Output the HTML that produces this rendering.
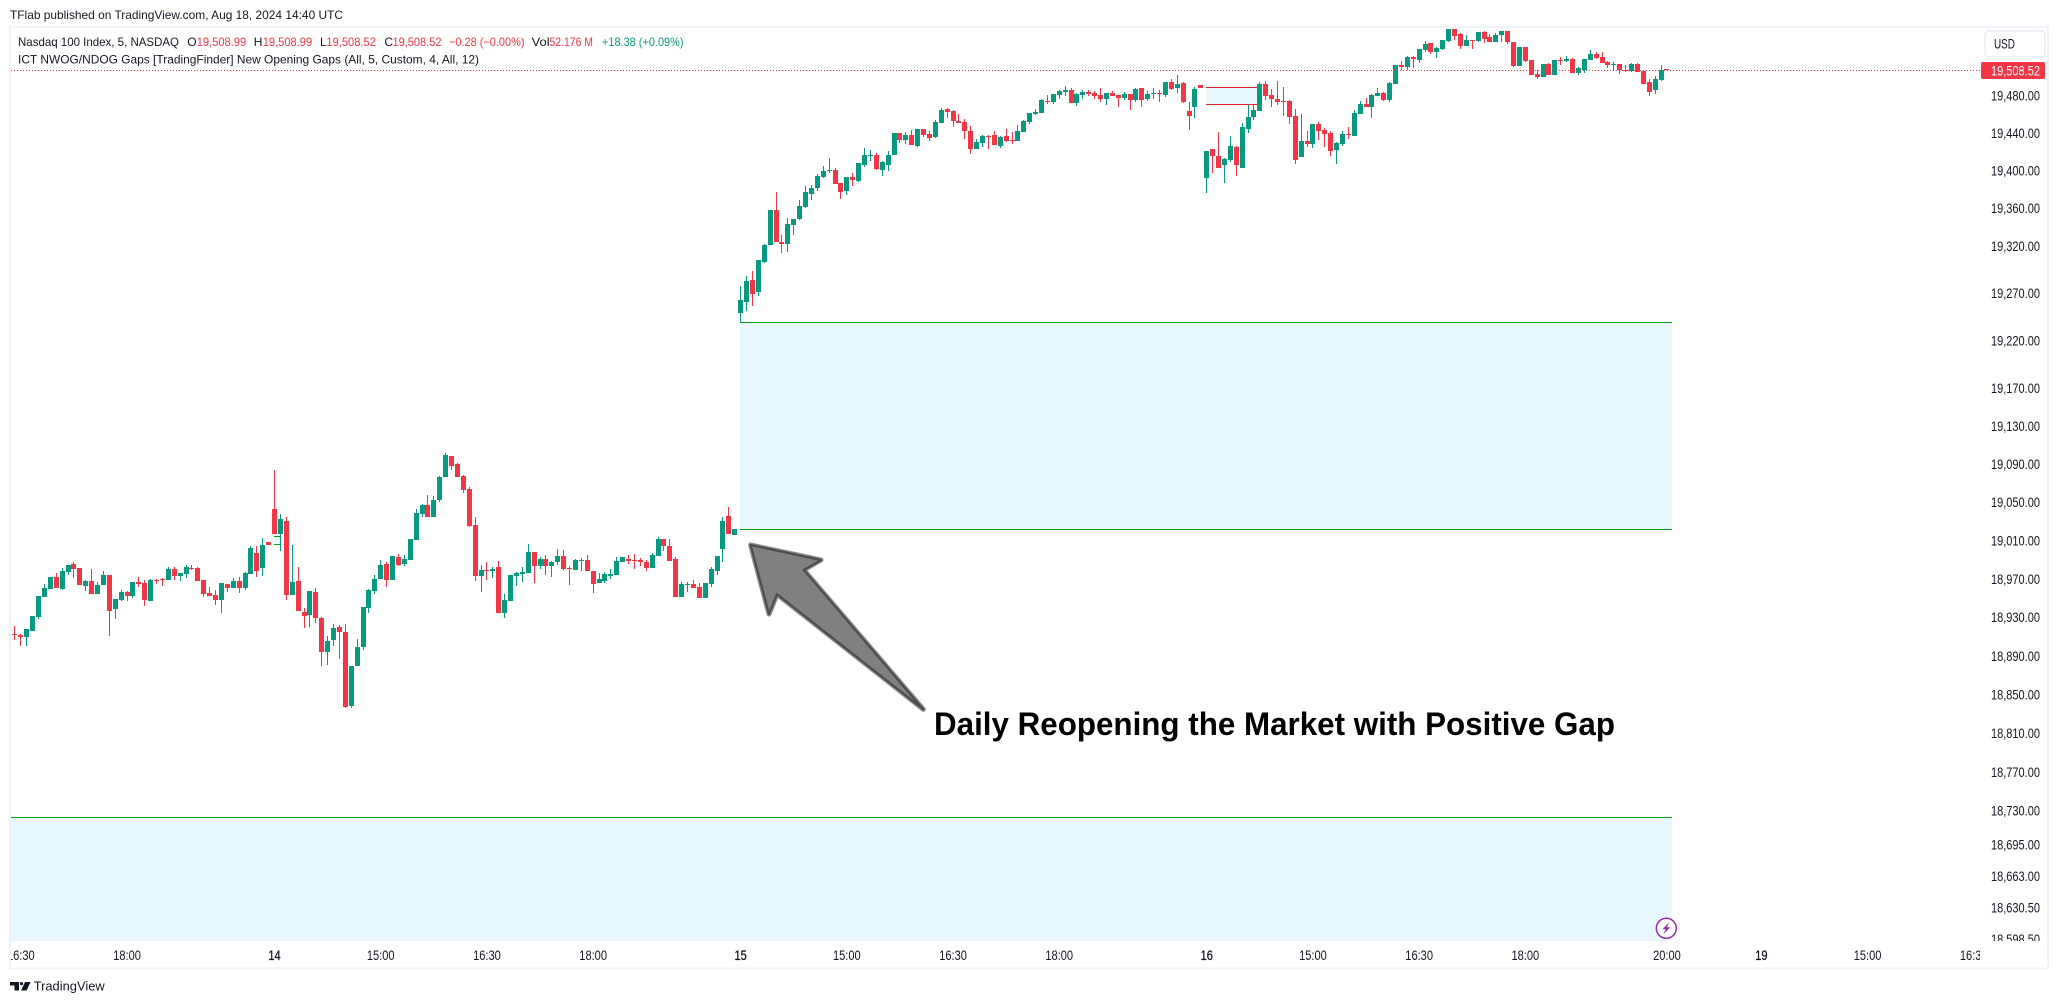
<!DOCTYPE html>
<html lang="en">
<head>
<meta charset="utf-8">
<title>Nasdaq 100 Index chart</title>
<style>
html,body{margin:0;padding:0;background:#fff;width:2059px;height:1004px;overflow:hidden}
svg{display:block}
text{font-family:"Liberation Sans",sans-serif;fill:#131722}
</style>
</head>
<body>
<svg id="chart" xmlns="http://www.w3.org/2000/svg" width="2059" height="1004" viewBox="0 0 2059 1004">
  <defs>
    <clipPath id="pane-clip"><rect x="11" y="28" width="1969" height="913"/></clipPath>
    <clipPath id="axis-clip"><rect x="1980" y="28" width="68" height="913"/></clipPath>
    <clipPath id="time-clip"><rect x="11" y="941" width="1969" height="27"/></clipPath>
  </defs>
  <rect x="0" y="0" width="2059" height="1004" fill="#ffffff"/>
  <text x="10" y="19" font-size="12" textLength="333" lengthAdjust="spacingAndGlyphs">TFlab published on TradingView.com, Aug 18, 2024 14:40 UTC</text>
  <rect x="10" y="27" width="2038" height="941.5" fill="none" stroke="#f0f3fa" stroke-width="2"/>
  <g id="gaps" clip-path="url(#pane-clip)"></g>
  <g id="candles" clip-path="url(#pane-clip)" shape-rendering="crispEdges"></g>
  <line id="price-line" x1="11" x2="1980" stroke="#f23645" stroke-width="1" stroke-dasharray="1 2"/>
  <g id="price-axis" clip-path="url(#axis-clip)"></g>
  <g id="time-axis" clip-path="url(#time-clip)"></g>
  <rect id="price-tag" x="1981" width="64" height="17" rx="2" fill="#f23645"/>
  <text id="price-tag-text" x="2040" font-size="13.5" text-anchor="end" style="fill:#ffffff">19,508.52</text>
  <g>
    <rect x="1985" y="31" width="60" height="26" rx="4" fill="#ffffff" stroke="#e6e8ef" stroke-width="1.2"/>
    <text x="1994" y="48.5" font-size="13.5" textLength="21" lengthAdjust="spacingAndGlyphs">USD</text>
  </g>
  <g font-size="12">
    <text x="18" y="46" textLength="161" lengthAdjust="spacingAndGlyphs">Nasdaq 100 Index, 5, NASDAQ</text>
    <text x="187.3" y="46">O</text>
    <text x="196.7" y="46" textLength="49.5" lengthAdjust="spacingAndGlyphs" style="fill:#f23645">19,508.99</text>
    <text x="253.8" y="46">H</text>
    <text x="262.7" y="46" textLength="49.5" lengthAdjust="spacingAndGlyphs" style="fill:#f23645">19,508.99</text>
    <text x="320" y="46">L</text>
    <text x="326.4" y="46" textLength="49.5" lengthAdjust="spacingAndGlyphs" style="fill:#f23645">19,508.52</text>
    <text x="384.4" y="46">C</text>
    <text x="392.5" y="46" textLength="49" lengthAdjust="spacingAndGlyphs" style="fill:#f23645">19,508.52</text>
    <text x="449" y="46" textLength="75.5" lengthAdjust="spacingAndGlyphs" style="fill:#f23645">−0.28 (−0.00%)</text>
    <text x="531.6" y="46" textLength="18" lengthAdjust="spacingAndGlyphs">Vol</text>
    <text x="549.5" y="46" textLength="43.5" lengthAdjust="spacingAndGlyphs" style="fill:#f23645">52.176 M</text>
    <text x="602" y="46" textLength="81.5" lengthAdjust="spacingAndGlyphs" style="fill:#089981">+18.38 (+0.09%)</text>
    <text x="18" y="63.3" textLength="461" lengthAdjust="spacingAndGlyphs">ICT NWOG/NDOG Gaps [TradingFinder] New Opening Gaps (All, 5, Custom, 4, All, 12)</text>
  </g>
  <g>
    <polygon points="750.6,545 821,560 803.9,570 923.3,709.3 777,594.3 769,614" fill="#808080" stroke="#8c8c8c" stroke-width="5" stroke-linejoin="round"/>
    <polygon points="750.6,545 821,560 803.9,570 923.3,709.3 777,594.3 769,614" fill="#808080" stroke="#4d4d4d" stroke-width="2.2" stroke-linejoin="round"/>
  </g>
  <text x="934" y="735" font-size="32" font-weight="bold" textLength="681" lengthAdjust="spacingAndGlyphs" style="fill:#000000">Daily Reopening the Market with Positive Gap</text>
  <g>
    <circle cx="1666.3" cy="928.3" r="10" fill="#ffffff" stroke="#9c27b0" stroke-width="1.5"/>
    <polygon points="1669.3,922.3 1662.3,929.3 1665.8,929.3 1663.3,934.3 1670.3,927.3 1666.8,927.3" fill="#9c27b0"/>
  </g>
  <g>
    <path d="M10 982h9v8.5h-4.5v-5H10z" fill="#131722"/>
    <circle cx="21.5" cy="983.6" r="1.6" fill="#131722"/>
    <polygon points="25,982 30.6,982 26.6,990.5 21,990.5" fill="#131722"/>
    <text x="33.7" y="990.7" font-size="13" textLength="71" lengthAdjust="spacingAndGlyphs">TradingView</text>
  </g>
</svg>
<script>
const opens=[
18913,18912,18909,18916,18930,18951,18959,18972,18959,18977,
18985,18981,18963,18968,18954,18964,18974,18939,18948,18956,
18952,18967,18966,18947,18969,18970,18969,18980,18973,18975,
18981,18981,18969,18955,18953,18948,18965,18960,18968,18960,
18975,18997,18981,19008,19043,19017,19030,18953,18968,18935,
18932,18956,18929,18894,18906,18920,18915,18838,18879,18899,
18940,18957,18970,18985,18969,18993,18985,18990,19010,19038,
19047,19035,19052,19076,19098,19090,19077,19064,19026,18973,
18979,18978,18982,18934,18947,18973,18975,18976,18998,18983,
18991,18983,18987,18994,18981,18979,18989,18990,18978,18966,
18968,18973,18974,18988,18991,18990,18990,18988,18981,18994,
19011,19004,18991,18951,18964,18965,18961,18950,18965,18978,
19001,19036,19016,
19249,19261,19284,19271,19303,19321,19358,
19324,19322,19342,19349,19361,19375,19381,19393,19400,19401,
19387,19378,19393,19389,19406,19416,19417,19401,19406,19417,
19440,19433,19438,19426,19444,19439,19436,19451,19466,19464,
19453,19452,19442,19423,19429,19437,19438,19426,19437,19433,
19432,19441,19452,19460,19461,19474,19473,19481,19484,19486,
19472,19481,19484,19483,19481,19477,19483,19481,19478,19482,
19475,19488,19476,19482,19483,19481,19495,19488,19494,19464,
19468,19491,
19392,19423,19416,19406,19411,19425,19403,19444,
19457,19464,19492,19481,19477,19474,19474,19458,19415,19432,
19428,19450,19443,19440,19422,19428,19439,19437,19460,19471,
19468,19480,19483,19475,19492,19513,19511,19521,19518,19529,
19536,19527,19530,19539,19552,19546,19533,19540,19539,19548,
19543,19538,19545,19549,19538,19512,19532,19518,19503,19500,
19514,19502,19518,19517,19519,19504,19508,19518,19525,19521,
19516,19513,19514,19508,19506,19514,19506,19495,19486,19497,
19508.99];
const highs=[
18921,18913,18918,18931,18952,18965,18972,18976,18981,18984,
18988,18981,18969,18980,18967,18978,18974,18949,18958,18957,
18967,18972,18969,18970,18970,18971,18982,18982,18976,18984,
18984,18982,18969,18961,18958,18966,18965,18971,18972,18977,
19004,19004,19013,19008,19084,19038,19034,19005,18982,18940,
18957,18960,18930,18910,18923,18922,18923,18879,18907,18941,
18959,18974,18990,18988,18994,18996,18995,19011,19043,19048,
19058,19056,19077,19102,19098,19091,19078,19066,19035,18984,
18987,18982,18989,18954,18974,18977,18982,19006,18998,18993,
18995,18989,19001,19000,18983,18991,18992,18995,18978,18976,
18977,18980,18993,18993,18995,18996,18992,18990,18997,19014,
19012,19011,18993,18967,18967,18969,18966,18966,18982,18994,
19034,19045,19022,
19278,19288,19293,19305,19322,19358,19377,
19332,19350,19349,19369,19384,19385,19396,19405,19413,19403,
19387,19393,19397,19408,19424,19422,19419,19410,19421,19440,
19440,19441,19443,19444,19444,19442,19454,19467,19467,19465,
19460,19455,19448,19434,19438,19438,19442,19437,19444,19441,
19449,19454,19461,19466,19477,19481,19482,19486,19490,19488,
19483,19486,19486,19485,19488,19483,19485,19481,19484,19482,
19488,19488,19485,19488,19486,19495,19498,19502,19495,19473,
19489,19491,
19421,19423,19441,19413,19437,19426,19451,19470,
19470,19495,19496,19487,19496,19489,19475,19466,19460,19442,
19450,19452,19446,19442,19431,19442,19447,19465,19474,19478,
19482,19488,19484,19495,19513,19517,19522,19523,19530,19539,
19536,19532,19540,19552,19552,19547,19545,19540,19548,19549,
19546,19547,19549,19549,19538,19532,19532,19518,19507,19514,
19515,19518,19521,19523,19520,19511,19519,19529,19527,19527,
19517,19516,19514,19513,19515,19515,19508,19498,19501,19513,
19508.99];
const lows=[
18906,18900,18900,18916,18928,18951,18959,18960,18958,18974,
18971,18964,18957,18954,18954,18964,18910,18928,18947,18947,
18950,18961,18942,18947,18965,18963,18969,18969,18968,18971,
18979,18968,18951,18952,18943,18934,18956,18960,18955,18958,
18975,18972,18973,19005,19017,18999,18948,18953,18937,18919,
18920,18924,18879,18880,18900,18887,18836,18836,18879,18896,
18934,18954,18970,18961,18969,18983,18983,18990,19010,19035,
19034,19035,19050,19076,19084,19076,19060,19024,18968,18956,
18969,18971,18934,18929,18947,18963,18967,18976,18966,18980,
18974,18972,18984,18979,18964,18979,18978,18978,18955,18966,
18966,18970,18974,18987,18985,18980,18983,18978,18981,18994,
18999,18989,18951,18951,18956,18960,18950,18950,18961,18974,
18987,19017,19016,
19238,19251,19256,19267,19302,19321,19324,
19312,19313,19332,19348,19360,19369,19378,19392,19398,19386,
19370,19374,19384,19388,19404,19410,19401,19394,19400,19417,
19429,19428,19427,19425,19436,19432,19435,19451,19456,19447,
19451,19434,19418,19423,19425,19423,19427,19424,19431,19428,
19432,19441,19450,19459,19461,19471,19471,19477,19480,19472,
19469,19477,19480,19477,19473,19470,19480,19468,19475,19465,
19473,19468,19474,19476,19473,19479,19486,19483,19472,19443,
19456,19488,
19376,19398,19403,19387,19409,19394,19403,19440,
19454,19464,19475,19468,19470,19458,19450,19407,19415,19425,
19424,19433,19425,19416,19407,19426,19434,19437,19460,19468,
19456,19480,19474,19473,19492,19507,19508,19510,19515,19527,
19525,19520,19529,19537,19540,19530,19533,19530,19537,19536,
19537,19537,19538,19535,19511,19512,19516,19502,19498,19500,
19502,19502,19513,19516,19504,19502,19504,19518,19519,19515,
19510,19508,19503,19505,19505,19505,19493,19480,19482,19496,
19508.52];
const closes=[
18912,18909,18918,18931,18952,18960,18972,18960,18978,18984,
18980,18964,18968,18954,18964,18974,18937,18949,18956,18952,
18967,18965,18948,18969,18968,18969,18980,18973,18976,18982,
18980,18968,18954,18952,18948,18966,18960,18968,18960,18976,
19002,18978,19005,19005,19017,19032,18953,18967,18937,18931,
18957,18929,18894,18905,18919,18915,18837,18879,18899,18941,
18958,18970,18984,18969,18994,18984,18991,19011,19039,19047,
19034,19052,19076,19099,19088,19076,19063,19025,18973,18979,
18978,18980,18934,18948,18974,18976,18977,18998,18983,18991,
18983,18988,18994,18980,18980,18990,18990,18978,18965,18970,
18975,18975,18989,18993,18989,18989,18987,18981,18995,19012,
19004,18989,18951,18965,18965,18960,18950,18966,18980,18994,
19030,19017,19022,
19263,19283,19269,19305,19321,19358,19324,
19322,19343,19349,19362,19377,19382,19394,19400,19401,19386,
19377,19393,19390,19408,19417,19417,19402,19409,19417,19440,
19433,19438,19427,19444,19438,19435,19452,19465,19463,19453,
19451,19442,19423,19431,19437,19436,19427,19436,19432,19432,
19442,19453,19461,19463,19475,19473,19482,19485,19486,19472,
19482,19484,19482,19480,19477,19483,19480,19478,19482,19475,
19487,19475,19482,19483,19482,19495,19487,19492,19473,19458,
19487,19488,
19421,19416,19403,19412,19426,19406,19447,19457,
19465,19492,19480,19476,19473,19473,19457,19411,19432,19428,
19450,19442,19439,19421,19430,19439,19438,19462,19471,19468,
19481,19483,19475,19494,19513,19511,19521,19519,19530,19535,
19527,19531,19540,19552,19544,19533,19540,19539,19548,19541,
19537,19545,19549,19537,19512,19532,19517,19502,19500,19514,
19502,19518,19517,19519,19504,19510,19519,19525,19520,19515,
19513,19514,19507,19507,19514,19505,19493,19484,19498,19508,
19508.52];

const priceTicks=[19510,19480,19440,19400,19360,19320,19270,19220,19170,19130,19090,19050,19010,18970,18930,18890,18850,18810,18770,18730,18695,18663,18630.5,18598.5];
const priceTickLabels=["19,510.00","19,480.00","19,440.00","19,400.00","19,360.00","19,320.00","19,270.00","19,220.00","19,170.00","19,130.00","19,090.00","19,050.00","19,010.00","18,970.00","18,930.00","18,890.00","18,850.00","18,810.00","18,770.00","18,730.00","18,695.00","18,663.00","18,630.50","18,598.50"];
const timeTickBars=[1,19,44,62,80,98,123,141,159,177,202,220,238,256,280,296,314,332];
const timeTickLabels=["16:30","18:00","14","15:00","16:30","18:00","15","15:00","16:30","18:00","16","15:00","16:30","18:00","20:00","19","15:00","16:30"];
const timeTickIsDate=[0,0,1,0,0,0,1,0,0,0,1,0,0,0,0,1,0,0];

const gapStartBars=[-4,44,123,202];
const gapEndBars=[281,45,281,211];
const gapUpperPrices=[18723.2,19015,19239.4,19489];
const gapLowerPrices=[18580,19006,19022,19471];
const gapColors=["#0a9c12","#0a9c12","#0a9c12","#e3242e"];
const lastPrice=19508.52;

const NS="http://www.w3.org/2000/svg";
const UP="#089981",DOWN="#f23645";
function xAxis(i){return 14.95+5.9*i;}
function yAxis(p){return 95.7+18210*Math.log(19480/p);}
function mk(tag,parent){const el=document.createElementNS(NS,tag);parent.appendChild(el);return el;}
function setRect(el,x,y,w,h,fill){el.setAttribute("x",x);el.setAttribute("y",y);el.setAttribute("width",w);el.setAttribute("height",h);el.setAttribute("fill",fill);}
function squeeze(el,k){const n=el.getComputedTextLength();el.setAttribute("textLength",(n*k).toFixed(1));el.setAttribute("lengthAdjust","spacingAndGlyphs");}

const gapLayer=document.getElementById("gaps");
gapStartBars.forEach(function(start,g){
  const x1=Math.floor(xAxis(start)),x2=Math.floor(xAxis(gapEndBars[g]));
  const yT=Math.round(yAxis(gapUpperPrices[g])),yB=Math.round(yAxis(gapLowerPrices[g]));
  const box=mk("rect",gapLayer);
  
  
  setRect(box,x1,yT,x2-x1,yB-yT,"#e9f8fe");
  const top=mk("rect",gapLayer);
  
  
  setRect(top,x1,yT,x2-x1,1,gapColors[g]);
  const bottom=mk("rect",gapLayer);
  
  
  setRect(bottom,x1,yB,x2-x1,1,gapColors[g]);
});

const candleLayer=document.getElementById("candles");
closes.forEach(function(close,i){
  const open=opens[i],color=close<open?DOWN:UP;
  const col=Math.floor(xAxis(i));
  const wt=Math.round(yAxis(highs[i])),wb=Math.round(yAxis(lows[i]));
  const bt=Math.round(yAxis(Math.max(open,close))),bb=Math.round(yAxis(Math.min(open,close)));
  const wick=mk("rect",candleLayer);
  
  
  setRect(wick,col,wt,1,Math.max(1,wb-wt),color);
  const body=mk("rect",candleLayer);
  
  
  setRect(body,col-2,bt,5,Math.max(1,bb-bt),color);
});

const priceAxis=document.getElementById("price-axis");
priceTicks.forEach(function(p,i){
  const t=mk("text",priceAxis);
  
  
  t.setAttribute("x",2040);
  t.setAttribute("y",yAxis(p)+5);
  t.setAttribute("font-size","13.5");
  t.setAttribute("text-anchor","end");
  t.textContent=priceTickLabels[i];
  squeeze(t,0.816);
});

const timeAxis=document.getElementById("time-axis");
timeTickBars.forEach(function(b,i){
  const t=mk("text",timeAxis);
  
  
  t.setAttribute("x",xAxis(b));
  t.setAttribute("y",959.8);
  t.setAttribute("font-size","13.5");
  t.setAttribute("text-anchor","middle");
  if(timeTickIsDate[i]){t.setAttribute("style","stroke:#131722;stroke-width:0.3");}
  t.textContent=timeTickLabels[i];
  squeeze(t,0.82);
});

const lastY=Math.round(yAxis(lastPrice))+1.5;
const pl=document.getElementById("price-line");
pl.setAttribute("y1",lastY);
pl.setAttribute("y2",lastY);
document.getElementById("price-tag").setAttribute("y",lastY-8.5);
const tagText=document.getElementById("price-tag-text");
tagText.setAttribute("y",lastY+5);
squeeze(tagText,0.816);
</script>
</body>
</html>
